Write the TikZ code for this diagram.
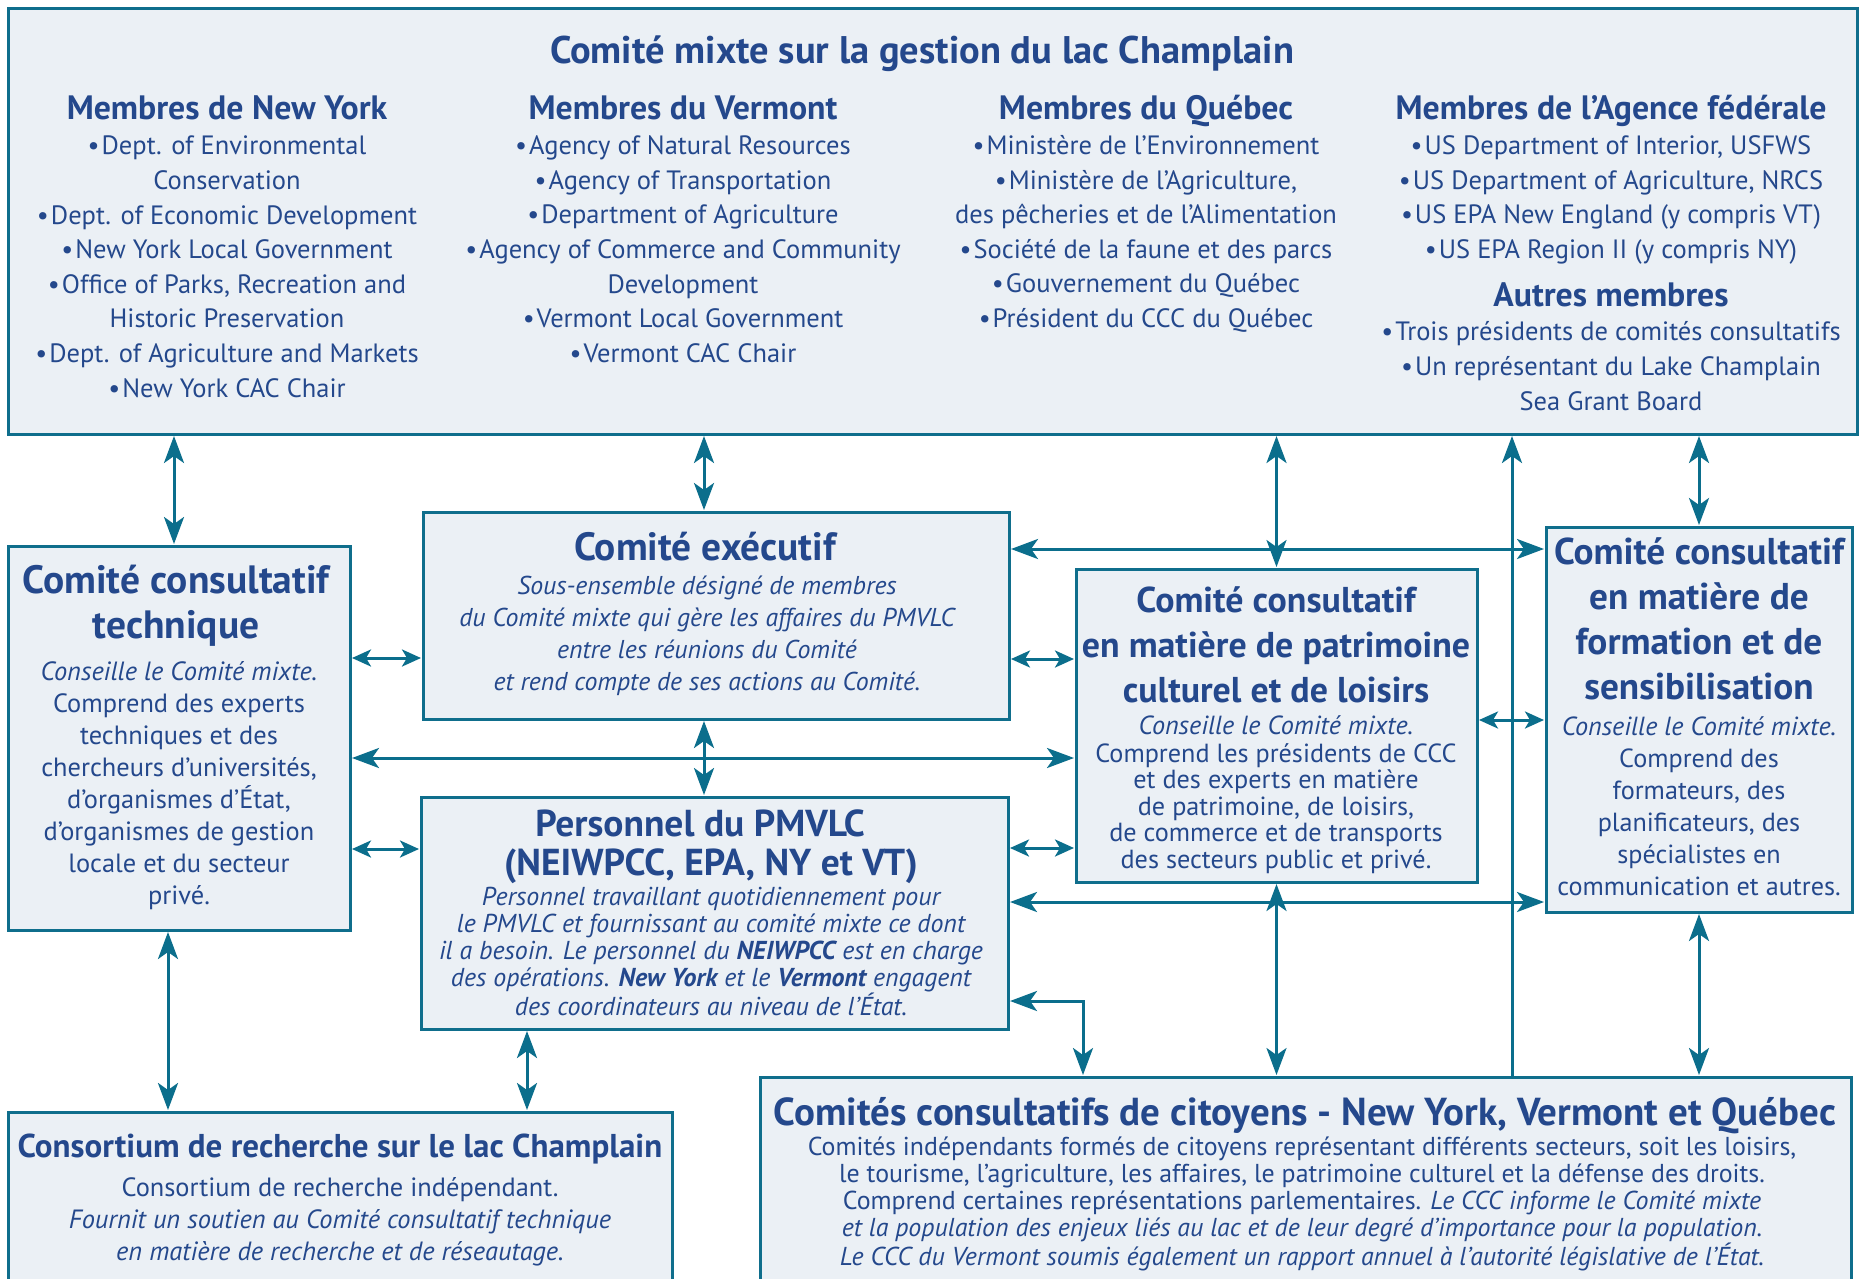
\documentclass[tikz,border=0pt]{standalone}
\usepackage{fontspec}
\setmainfont{PT Sans}
\usetikzlibrary{arrows.meta,calc}
\definecolor{boxc}{HTML}{EBF0F5}
\definecolor{bordc}{HTML}{0F6E8C}
\definecolor{textc}{HTML}{24488C}
\definecolor{arrc}{HTML}{0B6E8C}
\newcommand\fsz[2]{\fontsize{#1pt}{#2pt}\selectfont}
\newcommand\bul{\textbullet\kern2pt}
\begin{document}
\begin{tikzpicture}[x=1pt,y=-1pt,
  box/.style={draw=bordc, fill=boxc, line width=3pt, inner sep=0pt, outer sep=0pt, anchor=north west},
  txt/.style={text=textc, align=center, inner sep=0pt, outer sep=0pt},
  one/.style={txt, anchor=base},
  arr/.style={draw=arrc, line width=3pt, shorten <=2pt, shorten >=2pt,
    {Stealth[length=27pt,width=20pt,inset=7pt]}-{Stealth[length=27pt,width=20pt,inset=7pt]}},
  sarr/.style={draw=arrc, line width=3pt, shorten <=2pt, shorten >=2pt,
    {Stealth[length=19pt,width=17pt,inset=5pt]}-{Stealth[length=19pt,width=17pt,inset=5pt]}},
  uarr/.style={draw=arrc, line width=3pt, shorten >=2pt,
    -{Stealth[length=27pt,width=20pt,inset=7pt]}},
  hdr/.style={one, font=\bfseries\fsz{33.8}{36}},
  items/.style={txt, font=\fsz{26.5}{34.6}},
]
\useasboundingbox (0,0) rectangle (1864,1278);
\fill[white] (0,0) rectangle (1864,1278);

% boxes
\node[box, minimum width=1849pt, minimum height=426pt] (top) at (8,8) {};
\node[box, minimum width=342pt, minimum height=384pt] (tech) at (8,546) {};
\node[box, minimum width=586pt, minimum height=207pt] (exec) at (423,512) {};
\node[box, minimum width=587pt, minimum height=232pt] (pers) at (421,797) {};
\node[box, minimum width=401pt, minimum height=313pt] (patr) at (1076,569) {};
\node[box, minimum width=306pt, minimum height=385pt] (form) at (1546,527) {};
\node[box, minimum width=664pt, minimum height=200pt] (cons) at (8,1112) {};
\node[box, minimum width=1091pt, minimum height=230pt] (ccc) at (760,1077) {};

% top box text
\node[one, font=\bfseries\fsz{38.5}{44}] (ttop) at (922,63.5) {Comité mixte sur la gestion du lac Champlain};
\node[hdr] (hny) at (227,119.8) {Membres de New York};
\node[hdr] (hvt) at (683,119.8) {Membres du Vermont};
\node[hdr] (hqc) at (1146,119.8) {Membres du Québec};
\node[hdr] (hfd) at (1611,119.8) {Membres de l’Agence fédérale};
\node[hdr] (hau) at (1611,306.8) {Autres membres};
\node[items] (iny) at (227,269) {\strut\bul Dept. of Environmental\\
  Conservation\\ \bul Dept. of Economic Development\\ \bul New York Local Government\\
  \bul Office of Parks, Recreation and\\ Historic Preservation\\
  \bul Dept. of Agriculture and Markets\\ \strut\bul New York CAC Chair};
\node[items] (ivt) at (683,251.5) {\strut\bul Agency of Natural Resources\\
  \bul Agency of Transportation\\ \bul Department of Agriculture\\
  \bul Agency of Commerce and Community\\ Development\\
  \bul Vermont Local Government\\ \strut\bul Vermont CAC Chair};
\node[items] (iqc) at (1146,234) {\strut\bul Ministère de l’Environnement\\
  \bul Ministère de l’Agriculture,\\ des pêcheries et de l’Alimentation\\
  \bul Société de la faune et des parcs\\ \bul Gouvernement du Québec\\
  \strut\bul Président du CCC du Québec};
\node[items] (ifd) at (1611,199.5) {\strut\bul US Department of Interior, USFWS\\
  \bul US Department of Agriculture, NRCS\\ \bul US EPA New England (y compris VT)\\
  \strut\bul US EPA Region II (y compris NY)};
\node[items] (iau) at (1611,368.5) {\strut\bul Trois présidents de comités consultatifs\\
  \bul Un représentant du Lake Champlain\\ \strut Sea Grant Board};

% technical committee
\node[txt, font=\bfseries\fsz{39.5}{45}] (ttech) at (176,607) {\strut Comité consultatif\\ \strut technique};
\node[txt, font=\fsz{26.4}{32}] (btech) at (179,786) {\strut\textit{Conseille le Comité mixte.}\\
  Comprend des experts\\ techniques et des\\ chercheurs d’universités,\\
  d’organismes d’État,\\ d’organismes de gestion\\ locale et du secteur\\ \strut privé.};

% executive committee
\node[one, font=\bfseries\fsz{39.4}{45}] (texec) at (705,560.8) {Comité exécutif};
\node[txt, font=\itshape\fsz{25.8}{32}] (bexec) at (707,636) {\strut Sous-ensemble désigné de membres\\
  du Comité mixte qui gère les affaires du PMVLC\\ entre les réunions du Comité\\
  \strut et rend compte de ses actions au Comité.};

% staff
\node[txt, font=\bfseries\fsz{37.5}{38}] (tpers) at (711,848) {\strut Personnel du PMVLC\hspace*{22pt}\\ \strut(NEIWPCC, EPA, NY et VT)};
\node[txt, font=\itshape\fsz{25.9}{26.9}] (bpers) at (711,955) {\strut Personnel travaillant quotidiennement pour\\
  le PMVLC et fournissant au comité mixte ce dont\\
  il a besoin. Le personnel du \textbf{NEIWPCC} est en charge\\
  des opérations. \textbf{New York} et le \textbf{Vermont} engagent\\
  \strut des coordinateurs au niveau de l’État.};

% heritage committee
\node[txt, font=\bfseries\fsz{35.9}{45}] (tpatr) at (1276,648) {\strut Comité consultatif\\ en matière de patrimoine\\ \strut culturel et de loisirs};
\node[txt, font=\fsz{26.2}{26.6}] (bpatr) at (1276,796) {\strut\textit{Conseille le Comité mixte.}\\
  Comprend les présidents de CCC\\ et des experts en matière\\ de patrimoine, de loisirs,\\
  de commerce et de transports\\ \strut des secteurs public et privé.};

% education committee
\node[txt, font=\bfseries\fsz{37.3}{45}] (tform) at (1699,623) {\strut Comité consultatif\\ en matière de\\ formation et de\\ \strut sensibilisation};
\node[txt, font=\fsz{26.2}{32}] (bform) at (1699,809.5) {\strut\textit{Conseille le Comité mixte.}\\
  Comprend des\\ formateurs, des\\ planificateurs, des\\ spécialistes en\\ \strut communication et autres.};

% research consortium
\node[one, font=\bfseries\fsz{33}{36}] (tcons) at (340,1157.5) {Consortium de recherche sur le lac Champlain};
\node[txt, font=\fsz{26.4}{32}] (bcons) at (340,1222.5) {\strut Consortium de recherche indépendant.\\
  \textit{Fournit un soutien au Comité consultatif technique}\\
  \strut\textit{en matière de recherche et de réseautage.}};

% citizens committees
\node[one, font=\bfseries\fsz{39}{40}] (tccc) at (1305,1125) {Comités consultatifs de citoyens - New York, Vermont et Québec};
\node[txt, font=\fsz{25.9}{27}] (bccc) at (1302,1205) {\strut Comités indépendants formés de citoyens représentant différents secteurs, soit les loisirs,\\
  le tourisme, l’agriculture, les affaires, le patrimoine culturel et la défense des droits.\\
  Comprend certaines représentations parlementaires. \textit{Le CCC informe le Comité mixte}\\
  \textit{et la population des enjeux liés au lac et de leur degré d’importance pour la population.}\\
  \strut\textit{Le CCC du Vermont soumis également un rapport annuel à l’autorité législative de l’État.}};

% connector anchor points
\coordinate (a1) at ([xshift=-5pt]tech.north);
\coordinate (a2) at ([xshift=-12pt]exec.north);
\coordinate (a4) at ([xshift=206.5pt]ccc.north);
\coordinate (a6) at ([yshift=66.5pt]exec.east);
\coordinate (a7) at ([yshift=-42.5pt]exec.west);
\coordinate (a8) at ([yshift=-43.5pt]exec.east);
\coordinate (a9) at ([yshift=-20pt]tech.east);
\coordinate (a10) at ([xshift=-12pt]exec.south);
\coordinate (a11) at ([yshift=-111pt]tech.east);
\coordinate (a12) at ([yshift=65pt]pers.east);
\coordinate (a13) at ([yshift=5.5pt]patr.east);
\coordinate (a14) at ([yshift=11pt]pers.east);
\coordinate (a17) at ([xshift=-11pt]tech.south);
\coordinate (a18) at ([xshift=-187.5pt]pers.south);
\coordinate (a19) at ([yshift=-88pt]pers.east);
\coordinate (b19) at ([xshift=-222.5pt]ccc.north);

% connectors
\draw[arr] (top.south -| a1) -- (a1);
\draw[arr] (top.south -| a2) -- (a2);
\draw[arr] (top.south -| patr.north) -- (patr.north);
\draw[uarr] (a4) -- (top.south -| a4);
\draw[arr] (top.south -| form.north) -- (form.north);
\draw[arr] (a6) -- (a6 -| form.west);
\draw[sarr] (a7 -| tech.east) -- (a7);
\draw[sarr] (a8) -- (a8 -| patr.west);
\draw[arr] (a9) -- (a9 -| patr.west);
\draw[arr] (a10) -- (a10 |- pers.north);
\draw[sarr] (a11) -- (a11 -| pers.west);
\draw[sarr] (a12) -- (a12 -| patr.west);
\draw[sarr] (a13) -- (a13 -| form.west);
\draw[arr] (a14) -- (a14 -| form.west);
\draw[arr] (patr.south) -- (patr.south |- ccc.north);
\draw[arr] (form.south) -- (form.south |- ccc.north);
\draw[arr] (a17) -- (a17 |- cons.north);
\draw[arr] (a18) -- (a18 |- cons.north);
\draw[arr] (a19) -| (b19);
\end{tikzpicture}
\end{document}
